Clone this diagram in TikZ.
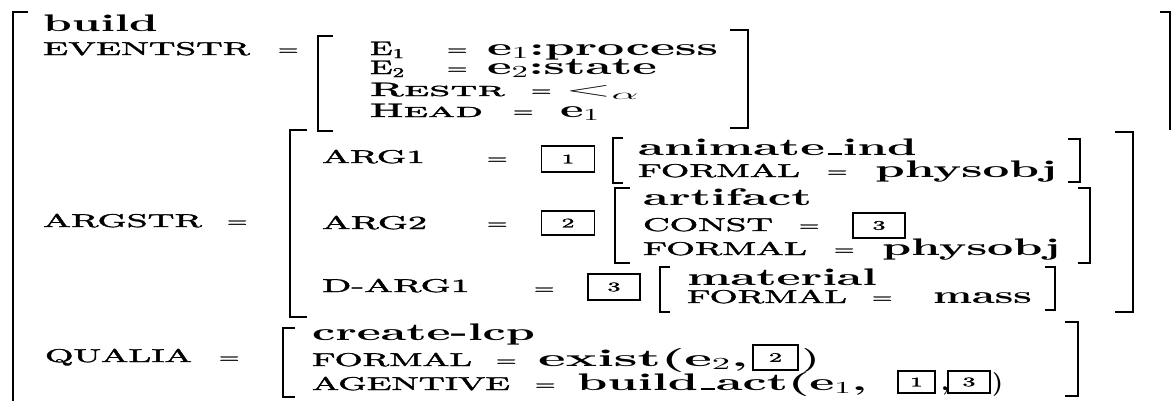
\documentclass[tikz,border=0pt]{standalone}
\usepackage{fontspec}
\setmainfont{lmroman10-regular.otf}[BoldFont=lmroman10-bold.otf, SmallCapsFont=lmromancaps10-regular.otf, ItalicFont=lmroman10-italic.otf]
\newfontfamily\labfont{lmroman10-regular.otf}[RawFeature={embolden=1.5}]
\newfontfamily\labscfont{lmromancaps10-regular.otf}[RawFeature={embolden=1.5}]
\newcommand\usc{\kern.06em\rule{.3em}{.07em}\kern.02em}
\newcommand\fw[2]{\resizebox{#1pt}{\height}{#2}}
\begin{document}
\begin{tikzpicture}[x=1pt,y=-1pt,
  every node/.style={inner sep=0pt, outer sep=0pt},
  lab/.style={font=\fontsize{18.5}{20}\selectfont\labfont, anchor=base west},
  sclab/.style={font=\fontsize{19.5}{22}\selectfont\labfont, anchor=base west},
  val/.style={font=\fontsize{24}{28}\selectfont\bfseries, anchor=base west},
  eq/.style={font=\fontsize{17.5}{20}\selectfont\labfont, xscale=1.5, anchor=base west},
  tag/.style={draw, line width=1.6pt, font=\fontsize{13}{14}\selectfont\labfont, xscale=2, anchor=center},
  brk/.style={line width=2pt, line join=miter, line cap=butt},
  bigbrk/.style={line width=2.8pt, line join=miter, line cap=butt}]
\useasboundingbox (0,0) rectangle (1176,400);
\fill[white] (0,0) rectangle (1176,400);
% outer brackets
\draw[bigbrk] (28,12) -- (13,12) -- (13,403);
\draw[bigbrk] (1160,12) -- (1170,12) -- (1170,130);
\node[val] (build) at (43,31) {\fw{115}{build}};
% EVENTSTR
\node[lab] (evl) at (43,55) {\fw{207}{EVENTSTR}};
\node[eq] (eveq) at (278,55) {=};
\draw[bigbrk] (333,36) -- (318,36) -- (318,131) -- (333,131);
\draw[bigbrk] (730,30) -- (748,30) -- (748,128) -- (730,128);
\node[sclab] (e1l) at (370,55) {\fw{35}{E\textsubscript{1}}};
\node[eq] (e1eq) at (447,55) {=};
\node[val] (e1v) at (487,55) {\fw{231}{e{\mdseries\textsubscript{1}}:process}};
\node[sclab] (e2l) at (370,74) {\fw{35}{E\textsubscript{2}}};
\node[eq] (e2eq) at (447,74) {=};
\node[val] (e2v) at (487,74) {\fw{170}{e{\mdseries\textsubscript{2}}:state}};
\node[sclab] (rl) at (370,96) {\fw{135}{R{\labscfont estr}}};
\node[eq] (req) at (531,96) {=};
\node[sclab] (rv) at (565,96) {\fw{75}{$<_\alpha$}};
\node[sclab] (hl) at (370,117) {\fw{113}{H{\labscfont ead}}};
\node[eq] (heq) at (513,117) {=};
\node[val] (hv) at (560,117) {\fw{40}{e{\mdseries\textsubscript{1}}}};
% ARGSTR
\node[lab] (agl) at (43,227) {\fw{159}{ARGSTR}};
\node[eq] (ageq) at (227,227) {=};
\draw[bigbrk] (307,130) -- (290,130) -- (290,317) -- (307,317);
\draw[bigbrk] (1115,132) -- (1133,132) -- (1133,312) -- (1115,312);
% ARG1
\node[lab] (a1l) at (322,163) {\fw{103}{ARG1}};
\node[eq] (a1eq) at (487,164) {=};
\node[tag, minimum width=26.5pt, minimum height=26pt] (t1a) at (568,159) {1};
\draw[brk] (623,138) -- (613,138) -- (613,183) -- (623,183);
\draw[brk] (1068,139) -- (1080,139) -- (1080,182) -- (1068,182);
\node[val] (anim) at (638,155) {\fw{279}{animate\usc ind}};
\node[lab] (f1l) at (638,177) {\fw{162}{FORMAL}};
\node[eq] (f1eq) at (827,177) {=};
\node[val] (f1v) at (875,177) {\fw{182}{physobj}};
% ARG2
\node[lab] (a2l) at (322,229) {\fw{105}{ARG2}};
\node[eq] (a2eq) at (487,229) {=};
\node[tag, minimum width=26.5pt, minimum height=24pt] (t2a) at (568,223) {2};
\draw[brk] (630,188) -- (615,188) -- (615,263) -- (630,263);
\draw[brk] (1078,188) -- (1090,188) -- (1090,263) -- (1078,263);
\node[val] (art) at (643,205) {\fw{169}{artifact}};
\node[lab] (cl) at (643,231) {\fw{130}{CONST}};
\node[eq] (ceq) at (799,231) {=};
\node[tag, minimum width=26pt, minimum height=25pt] (t3a) at (879,225.5) {3};
\node[lab] (f2l) at (643,255) {\fw{164}{FORMAL}};
\node[eq] (f2eq) at (834,255) {=};
\node[val] (f2v) at (882,255) {\fw{178}{physobj}};
% D-ARG1
\node[lab] (dl) at (322,292) {\fw{148}{D-ARG1}};
\node[eq] (deq) at (534,294) {=};
\node[tag, minimum width=26pt, minimum height=26pt] (t3b) at (614,287) {3};
\draw[brk] (670,267) -- (660,267) -- (660,312) -- (670,312);
\draw[brk] (1045,267) -- (1055,267) -- (1055,310) -- (1045,310);
\node[val] (mat) at (687,285) {\fw{190}{material}};
\node[lab] (f3l) at (687,303) {\fw{160}{FORMAL}};
\node[eq] (f3eq) at (872,303) {=};
\node[val] (f3v) at (933,303) {\fw{99}{mass}};
% QUALIA
\node[lab] (ql) at (45,362) {\fw{147}{QUALIA}};
\node[eq] (qeq) at (219,363) {=};
\draw[bigbrk] (295,328) -- (283,328) -- (283,397) -- (295,397);
\draw[bigbrk] (1065,322) -- (1078,322) -- (1078,396) -- (1065,396);
\node[val] (cl2) at (312,340) {\fw{223}{create-lcp}};
\node[lab] (qfl) at (312,366) {\fw{160}{FORMAL}};
\node[eq] (qfeq) at (496,366) {=};
\node[val] (qfv) at (538,366) {\fw{210}{exist(e{\mdseries\textsubscript{2}},}};
\node[tag, minimum width=22.5pt, minimum height=25pt] (t2b) at (775.5,357.5) {2};
\node[val] (qfp) at (802,366) {\fw{17}{)}};
\node[lab] (qal) at (312,390) {\fw{198}{AGENTIVE}};
\node[eq] (qaeq) at (535,390) {=};
\node[val] (qav) at (577,390) {\fw{290}{build\usc act(e{\mdseries\textsubscript{1}},}};
\node[tag, minimum width=18.5pt, minimum height=22pt] (t1b) at (916.5,382) {1};
\node[val] (qac) at (941,390) {\fw{8}{,}};
\node[tag, minimum width=21pt, minimum height=22pt] (t3c) at (969,382) {3};
\node[val] (qap) at (992,390) {\fw{11}{)}};
\end{tikzpicture}
\end{document}
